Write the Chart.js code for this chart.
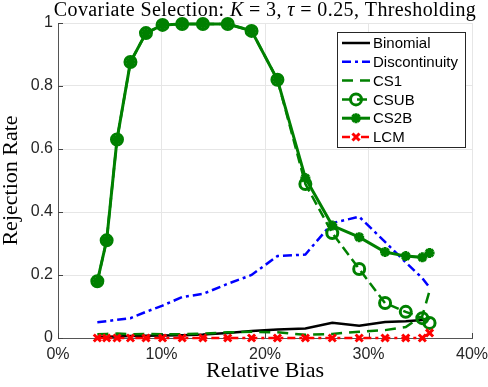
<!DOCTYPE html>
<html>
<head>
<meta charset="utf-8">
<script src="https://cdn.jsdelivr.net/npm/chart.js@4.4.1/dist/chart.umd.min.js"></script>
<style>
  body { margin: 0; background: #fff; }
  #wrap { position: relative; width: 488px; height: 387px; }
  #title {
    position: absolute; left: 40px; top: 0; width: 450px;
    text-align: center; font: 20px/18px "Liberation Serif", serif; color: #000;
    letter-spacing: 0.4px; white-space: nowrap;
  }
  canvas { position: absolute; left: 0; top: 0; }
</style>
</head>
<body>
<div id="wrap">
  <canvas id="rejChart" width="488" height="387"></canvas>
  <div id="title">Covariate Selection: <i>K</i> = 3, <i>τ</i> = 0.25, Thresholding</div>
</div>
<script>
// relative bias (%) for each simulation setting
var bias = [3.8, 4.7, 5.7, 7.0, 8.5, 10.1, 12.0, 14.0, 16.4, 18.7, 21.2, 23.9, 26.5, 29.1, 31.6, 33.6, 35.2, 35.9];

var binomial = [0.003, 0.004, 0.005, 0.006, 0.007, 0.008, 0.009, 0.011, 0.016, 0.022, 0.027, 0.03, 0.048, 0.039, 0.051, 0.053, 0.057, 0.062];
var discontinuity = [0.05, 0.053, 0.058, 0.063, 0.083, 0.103, 0.13, 0.14, 0.172, 0.2, 0.26, 0.265, 0.365, 0.385, 0.305, 0.24, 0.19, 0.16];
var cs1 = [0.012, 0.013, 0.014, 0.012, 0.013, 0.012, 0.012, 0.014, 0.018, 0.02, 0.018, 0.01, 0.013, 0.02, 0.025, 0.035, 0.07, 0.15];
var csub = [0.18, 0.31, 0.63, 0.876, 0.968, 0.994, 0.997, 0.997, 0.997, 0.975, 0.82, 0.489, 0.333, 0.219, 0.111, 0.083, 0.063, 0.048];
var cs2b = [0.18, 0.31, 0.63, 0.876, 0.968, 0.994, 0.997, 0.997, 0.997, 0.975, 0.82, 0.508, 0.357, 0.32, 0.273, 0.26, 0.256, 0.27];
var lcm = [0, 0, 0, 0, 0, 0, 0, 0, 0, 0, 0, 0, 0, 0, 0, 0, 0, 0.016];

var xTicks = [0, 10, 20, 30, 40];
var yTicks = [0, 0.2, 0.4, 0.6, 0.8, 1];

function pts(vals) {
  return bias.map(function (b, i) { return { x: b, y: vals[i] }; });
}

var green = '#008000';

// draw a marker the same way for the legend
function marker(ctx, style, x, y, r, color, lw) {
  ctx.save();
  ctx.strokeStyle = color;
  ctx.lineWidth = lw;
  ctx.setLineDash([]);
  ctx.beginPath();
  if (style === 'circle') {
    ctx.arc(x, y, r, 0, Math.PI * 2);
  } else {
    var d = r * Math.SQRT1_2;
    ctx.moveTo(x - d, y - d); ctx.lineTo(x + d, y + d);
    ctx.moveTo(x - d, y + d); ctx.lineTo(x + d, y - d);
    if (style === 'star') {
      ctx.moveTo(x, y - r); ctx.lineTo(x, y + r);
      ctx.moveTo(x - r, y); ctx.lineTo(x + r, y);
    }
  }
  ctx.stroke();
  ctx.restore();
}

var boxLegend = {
  id: 'boxLegend',
  afterDraw: function (chart) {
    var ctx = chart.ctx, area = chart.chartArea;
    var x0 = area.right - 135, y0 = area.top + 9, w = 128, h = 115;
    ctx.save();
    ctx.fillStyle = '#fff';
    ctx.fillRect(x0, y0, w, h);
    ctx.strokeStyle = '#262626';
    ctx.lineWidth = 1;
    ctx.strokeRect(x0 + 0.5, y0 + 0.5, w, h);
    ctx.font = '15px "Liberation Sans", Arial, sans-serif';
    ctx.textBaseline = 'middle';
    ctx.fillStyle = '#000';
    chart.data.datasets.forEach(function (ds, i) {
      var y = y0 + 11 + i * 18.8;
      ctx.save();
      ctx.strokeStyle = ds.borderColor;
      ctx.lineWidth = ds.borderWidth;
      ctx.setLineDash(ds.borderDash || []);
      ctx.beginPath();
      ctx.moveTo(x0 + 5, y);
      ctx.lineTo(x0 + 33, y);
      ctx.stroke();
      ctx.restore();
      if (ds.pointRadius > 0) {
        marker(ctx, ds.pointStyle, x0 + 19, y, ds.pointRadius, ds.borderColor, ds.pointBorderWidth);
      }
      ctx.fillText(ds.label, x0 + 36, y + 1);
    });
    ctx.restore();
  }
};

var tickMarks = {
  id: 'tickMarks',
  beforeDatasetsDraw: function (chart) {
    var ctx = chart.ctx, area = chart.chartArea;
    var xs = chart.scales.x, ys = chart.scales.y;
    ctx.save();
    ctx.strokeStyle = '#444';
    ctx.lineWidth = 1;
    ctx.beginPath();
    xTicks.forEach(function (t) {
      var px = Math.round(xs.getPixelForValue(t)) + 0.5;
      ctx.moveTo(px, area.bottom); ctx.lineTo(px, area.bottom - 5);
    });
    yTicks.forEach(function (t) {
      var py = Math.round(ys.getPixelForValue(t)) + 0.5;
      ctx.moveTo(area.left, py); ctx.lineTo(area.left + 5, py);
    });
    ctx.stroke();
    ctx.restore();
  }
};

var chart = document.getElementById('rejChart');

new Chart(chart, {
  type: 'line',
  data: {
    datasets: [{
      label: 'Binomial',
      data: pts(binomial),
      borderColor: '#000000',
      borderWidth: 2.5,
      pointRadius: 0,
      order: 6
    }, {
      label: 'Discontinuity',
      data: pts(discontinuity),
      borderColor: '#0000ff',
      borderWidth: 2.5,
      borderDash: [9, 4, 3, 4],
      pointRadius: 0,
      order: 5
    }, {
      label: 'CS1',
      data: pts(cs1),
      borderColor: green,
      borderWidth: 2.5,
      borderDash: [11, 7],
      pointRadius: 0,
      order: 4
    }, {
      label: 'CSUB',
      data: pts(csub),
      borderColor: green,
      borderWidth: 2.5,
      borderDash: [10, 5],
      pointStyle: 'circle',
      pointRadius: 5.5,
      pointBorderWidth: 3,
      pointBorderColor: green,
      pointBackgroundColor: 'rgba(0,0,0,0)',
      order: 3
    }, {
      label: 'CS2B',
      data: pts(cs2b),
      borderColor: green,
      borderWidth: 3,
      pointStyle: 'star',
      pointRadius: 5,
      pointBorderWidth: 3,
      pointBorderColor: green,
      pointBackgroundColor: green,
      order: 2
    }, {
      label: 'LCM',
      data: pts(lcm),
      borderColor: '#ff0000',
      borderWidth: 2.5,
      borderDash: [8, 4, 3, 4],
      pointStyle: 'crossRot',
      pointRadius: 5,
      pointBorderWidth: 3,
      pointBorderColor: '#ff0000',
      order: 1
    }]
  },
  options: {
    responsive: false,
    devicePixelRatio: 1,
    animation: false,
    events: [],
    datasets: {
      line: { fill: false, tension: 0, clip: false, pointHoverRadius: 0 }
    },
    layout: { padding: { top: 23, right: 0, bottom: 0, left: 0 } },
    plugins: {
      legend: { display: false },
      tooltip: { enabled: false },
      title: { display: false }
    },
    scales: {
      x: {
        type: 'linear',
        min: 0,
        max: 40,
        afterFit: function (s) { s.height = 49; s.paddingLeft = 0; s.paddingRight = 16; },
        afterBuildTicks: function (s) { s.ticks = xTicks.map(function (v) { return { value: v }; }); },
        ticks: {
          padding: 7,
          color: '#262626',
          font: { family: '"Liberation Sans", Arial, sans-serif', size: 16 },
          callback: function (v) { return v + '%'; }
        },
        grid: { color: '#e6e6e6', drawTicks: false },
        border: { color: '#555', width: 1 },
        title: {
          display: true,
          text: 'Relative Bias',
          color: '#000',
          padding: { top: 0, bottom: 5 },
          font: { family: '"Liberation Serif", serif', size: 22, lineHeight: 1 }
        }
      },
      y: {
        min: 0,
        max: 1,
        afterFit: function (s) { s.width = 58; },
        afterBuildTicks: function (s) { s.ticks = yTicks.map(function (v) { return { value: v }; }); },
        ticks: {
          padding: 5,
          color: '#262626',
          font: { family: '"Liberation Sans", Arial, sans-serif', size: 16 },
          callback: function (v) { return String(+v.toFixed(1)); }
        },
        grid: { color: '#e6e6e6', drawTicks: false },
        border: { color: '#555', width: 1 },
        title: {
          display: true,
          text: 'Rejection Rate',
          color: '#000',
          padding: { top: 0, bottom: 0 },
          font: { family: '"Liberation Serif", serif', size: 22, lineHeight: 1 }
        }
      }
    }
  },
  plugins: [tickMarks, boxLegend]
});
</script>
</body>
</html>
